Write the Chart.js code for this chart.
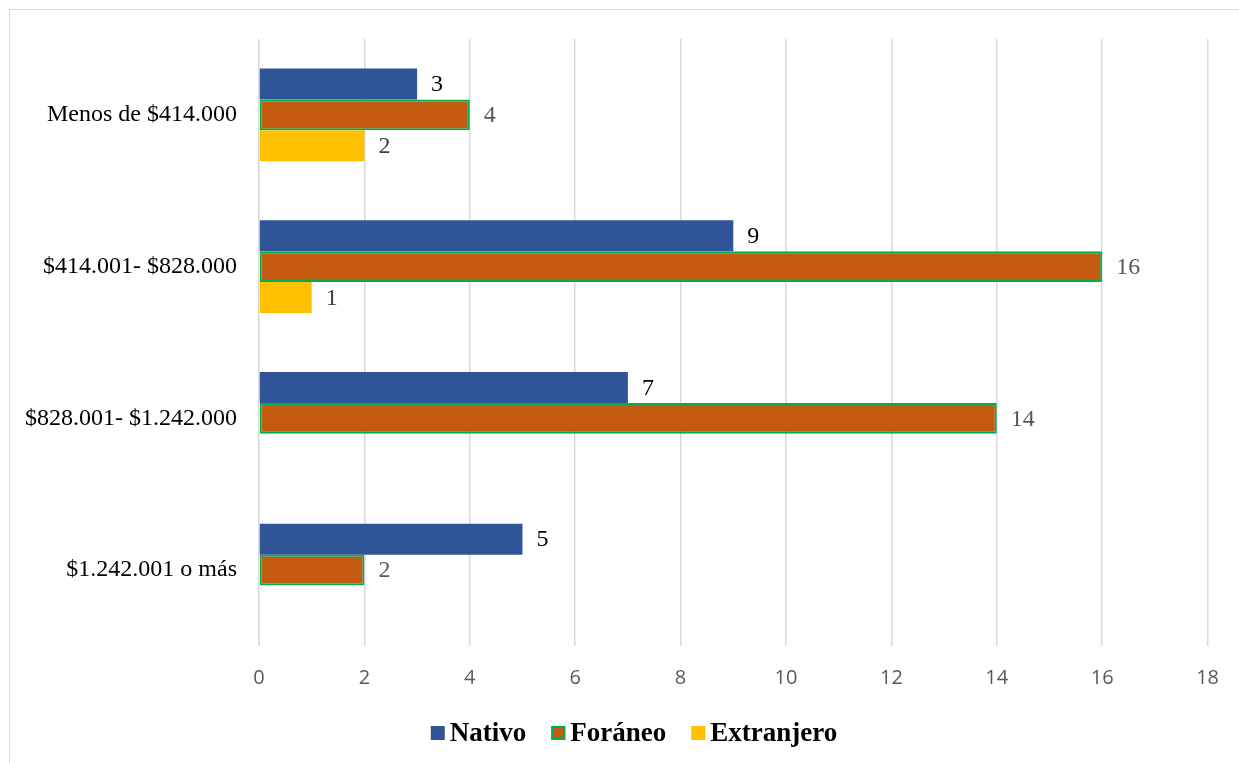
<!doctype html>
<html lang="es">
<head>
<meta charset="utf-8">
<style>
  html, body { margin: 0; padding: 0; background: #fff; }
  #wrap { position: relative; width: 1239px; height: 763px; overflow: hidden; }
  #frame { position: absolute; left: 9px; top: 9px; width: 1240px; height: 760px; border: 1px solid #d9d9d9; }
  #chart { position: absolute; left: 0; top: 0; }
</style>
<script src="https://cdn.jsdelivr.net/npm/chart.js@4"></script>
</head>
<body>
<div id="wrap">
  <div id="frame"></div>
  <canvas id="chart" width="1239" height="763"></canvas>
</div>
<script>
// datos
const categorias = ['Menos de $414.000', '$414.001- $828.000', '$828.001- $1.242.000', '$1.242.001 o más'];
const nativo = [3, 9, 7, 5];
const foraneo = [4, 16, 14, 2];
const extranjero = [2, 1, 0, 0];
const xTicks = [0, 2, 4, 6, 8, 10, 12, 14, 16, 18];

const labelColors = ['#000000', '#595959', '#404040'];

// etiquetas de valor al final de cada barra
const valueLabels = {
  id: 'valueLabels',
  afterDatasetsDraw(chart) {
    const ctx = chart.ctx;
    ctx.save();
    ctx.font = '24px "Liberation Serif", "Times New Roman", serif';
    ctx.textBaseline = 'middle';
    ctx.textAlign = 'left';
    chart.data.datasets.forEach((ds, i) => {
      const meta = chart.getDatasetMeta(i);
      meta.data.forEach((bar, j) => {
        const v = ds.data[j];
        if (!v) return;
        ctx.fillStyle = labelColors[i];
        ctx.fillText(String(v), bar.x + 14, bar.y + 1);
      });
    });
    ctx.restore();
  }
};

// leyenda propia, abajo
const bottomLegend = {
  id: 'bottomLegend',
  afterDraw(chart) {
    const ctx = chart.ctx;
    ctx.save();
    ctx.font = 'bold 27px "Liberation Serif", "Times New Roman", serif';
    ctx.textBaseline = 'middle';
    const box = 14, gap = 5, space = 25;
    const items = chart.data.datasets.map(ds => ({
      text: ds.label, fill: ds.backgroundColor, border: ds.legendBorder,
      w: box + gap + ctx.measureText(ds.label).width
    }));
    const total = items.reduce((s, it) => s + it.w, 0) + space * (items.length - 1);
    let x = 634 - total / 2;
    const y = 733;
    items.forEach(it => {
      ctx.fillStyle = it.fill;
      ctx.fillRect(x, y - box / 2, box, box);
      if (it.border) {
        ctx.strokeStyle = it.border;
        ctx.lineWidth = 2;
        ctx.strokeRect(x + 1, y - box / 2 + 1, box - 2, box - 2);
      }
      ctx.fillStyle = '#000';
      ctx.fillText(it.text, x + box + gap, y + 1);
      x += it.w + space;
    });
    ctx.restore();
  }
};

new Chart(document.getElementById('chart'), {
  type: 'bar',
  data: {
    labels: categorias,
    datasets: [
      { label: 'Nativo', data: nativo, backgroundColor: '#2F5597', borderWidth: 0 },
      { label: 'Foráneo', data: foraneo, backgroundColor: '#C55A11', borderColor: '#00B050',
        borderWidth: 2, borderSkipped: false, legendBorder: '#00B050' },
      { label: 'Extranjero', data: extranjero, backgroundColor: '#FFC000', borderWidth: 0 }
    ]
  },
  options: {
    indexAxis: 'y',
    responsive: false,
    animation: false,
    events: [],
    categoryPercentage: 0.612,
    barPercentage: 1,
    layout: { padding: { top: 39, right: 30, left: 0, bottom: 0 } },
    plugins: { legend: { display: false }, tooltip: { enabled: false } },
    scales: {
      x: {
        min: 0, max: 18,
        afterBuildTicks: s => { s.ticks = xTicks.map(v => ({ value: v })); },
        afterFit: s => { s.height = 117; },
        ticks: { color: '#595959', padding: 20, font: { family: '"Open Sans", sans-serif', size: 20 } },
        grid: { color: '#d9d9d9', lineWidth: 1.5, drawTicks: false },
        border: { display: false }
      },
      y: {
        afterFit: s => { s.width = 259; },
        ticks: { color: '#000', padding: 22, font: { family: '"Liberation Serif", "Times New Roman", serif', size: 24 } },
        grid: { display: false, drawTicks: false },
        border: { display: false }
      }
    }
  },
  plugins: [valueLabels, bottomLegend]
});
</script>
</body>
</html>
